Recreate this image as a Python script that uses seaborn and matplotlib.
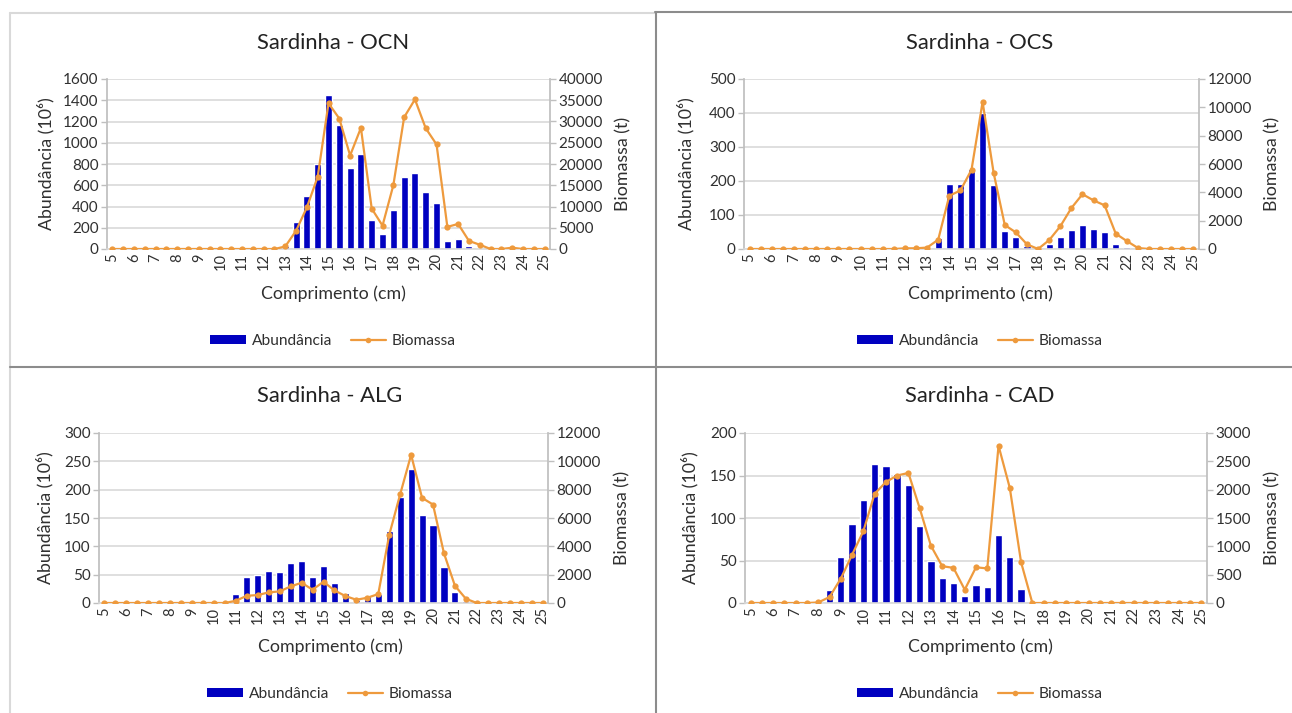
import numpy as np
import pandas as pd
import matplotlib
matplotlib.use("Agg")
import matplotlib.pyplot as plt
import seaborn as sns
from matplotlib.patches import Patch
from matplotlib.lines import Line2D

# Length classes (cm)
lengths = [5, 5.5, 6, 6.5, 7, 7.5, 8, 8.5, 9, 9.5, 10, 10.5, 11, 11.5, 12, 12.5,
           13, 13.5, 14, 14.5, 15, 15.5, 16, 16.5, 17, 17.5, 18, 18.5, 19, 19.5,
           20, 20.5, 21, 21.5, 22, 22.5, 23, 23.5, 24, 24.5, 25]
tick_labels = [str(v) for v in range(5, 26)]

# OCN
ocn_abund = [0, 0, 0, 0, 0, 0, 0, 0, 0, 0, 0, 0, 0, 0, 0, 0,
             30, 250, 500, 800, 1450, 1170, 760, 890, 275, 145, 365, 680, 715, 535,
             430, 80, 90, 25, 12, 0, 0, 0, 0, 0, 0]
ocn_bio = [0, 0, 0, 0, 0, 0, 0, 0, 0, 0, 0, 0, 0, 0, 0, 0,
           600, 4300, 9800, 17000, 34300, 30700, 22000, 28500, 9500, 5500, 15000, 31000, 35200, 28400,
           24600, 5200, 5900, 1900, 1000, 0, 0, 300, 0, 0, 0]

# OCS
ocs_abund = [0, 0, 0, 0, 0, 0, 0, 0, 0, 0, 0, 0, 0, 0, 1, 1,
             2, 33, 192, 192, 235, 400, 189, 54, 34, 10, 0, 14, 34, 57,
             72, 59, 49, 16, 6, 0, 0, 0, 0, 0, 0]
ocs_bio = [0, 0, 0, 0, 0, 0, 0, 0, 0, 0, 0, 0, 0, 0, 50, 50,
           100, 660, 3760, 4130, 5590, 10380, 5350, 1690, 1170, 330, 0, 630, 1600, 2890,
           3870, 3430, 3080, 1080, 560, 70, 0, 0, 0, 0, 0]

# ALG
alg_abund = [0, 0, 0, 0, 0, 0, 0, 0, 0, 0, 0, 0, 16, 46, 49, 56,
             54, 71, 75, 46, 65, 36, 18, 6, 12, 16, 127, 187, 237, 156,
             137, 63, 20, 3, 0, 0, 0, 0, 0, 0, 0]
alg_bio = [0, 0, 0, 0, 0, 0, 0, 0, 0, 0, 0, 0, 160, 510, 560, 750,
           820, 1170, 1430, 940, 1500, 890, 490, 230, 370, 630, 4800, 7670, 10460, 7420,
           6950, 3510, 1220, 300, 0, 0, 0, 0, 0, 0, 0]

# CAD
cad_abund = [0, 0, 0, 0, 0, 0, 4, 15, 54, 93, 121, 163, 161, 152, 139, 91,
             50, 29, 24, 8, 21, 19, 80, 54, 17, 0, 0, 0, 0, 0,
             0, 0, 0, 0, 0, 0, 0, 0, 0, 0, 0]
cad_bio = [0, 0, 0, 0, 0, 0, 10, 105, 430, 850, 1265, 1925, 2135, 2250, 2295, 1675,
           1010, 650, 620, 235, 630, 610, 2775, 2030, 720, 0, 0, 0, 0, 0,
           0, 0, 0, 0, 0, 0, 0, 0, 0, 0, 0]

BAR_COLOR = "#0000C0"
LINE_COLOR = "#EE9A3D"
TEXT = "#303030"
GRID = "#D9D9D9"
SPINE = "#BFBFBF"

W, H = 1292, 713

sns.set_theme(style="white")
plt.rcParams["font.family"] = ["Lato", "DejaVu Sans"]

fig = plt.figure(figsize=(W / 100, H / 100), dpi=100)


def fx(px):
    return px / W


def fy(py):
    return 1 - py / H


def panel(title, abund, bio, box, ylim1, ystep1, ylim2, ystep2, cx, xl_y, yl_x, yr_x, leg_y, title_y):
    left, top, right, bottom = box
    ax = fig.add_axes([fx(left), fy(bottom), fx(right - left), (bottom - top) / H])
    df = pd.DataFrame({"len": [str(v) for v in lengths], "abund": abund, "bio": bio,
                       "pos": range(len(lengths))})
    sns.barplot(data=df, x="len", y="abund", ax=ax, color=BAR_COLOR, saturation=1,
                width=0.65, zorder=2)
    ax.set_ylim(0, ylim1)
    ax.set_yticks(np.arange(0, ylim1 + 1, ystep1))
    ax.yaxis.grid(True, color=GRID, lw=1.2)
    ax.set_axisbelow(True)
    ax.set_xticks(range(0, len(lengths), 2))
    ax.set_xticklabels(tick_labels, rotation=90, fontsize=10.5, color=TEXT)
    ax.tick_params(axis="x", length=0, pad=3)
    ax.tick_params(axis="y", length=4, width=1, color=SPINE, labelsize=11, labelcolor=TEXT, pad=2, left=True)
    ax.set_xlabel("")
    ax.set_ylabel("")
    for s in ["top", "right"]:
        ax.spines[s].set_visible(False)
    ax.spines["left"].set_color(SPINE)
    ax.spines["bottom"].set_color(GRID)
    ax.spines["bottom"].set_linewidth(1.2)

    ax2 = ax.twinx()
    sns.lineplot(data=df, x="pos", y="bio", ax=ax2, color=LINE_COLOR, lw=1.6,
                 marker="o", markersize=4.5, markeredgewidth=0)
    ax2.set_ylim(0, ylim2)
    ax2.set_yticks(np.arange(0, ylim2 + 1, ystep2))
    ax2.tick_params(axis="y", length=4, width=1, color=SPINE, labelsize=11, labelcolor=TEXT, pad=2, right=True)
    ax2.set_ylabel("")
    ax2.set_xlabel("")
    for s in ["top", "left", "bottom"]:
        ax2.spines[s].set_visible(False)
    ax2.spines["right"].set_color(SPINE)
    ax.set_xlim(-0.5, len(lengths) - 0.5)
    ax2.set_xlim(-0.5, len(lengths) - 0.5)

    fig.text(fx(cx), fy(title_y), title, ha="center", va="center", fontsize=15.8, color="#222222")
    fig.text(fx(cx), fy(xl_y), "Comprimento (cm)", ha="center", va="center", fontsize=12.8, color=TEXT)
    mid = (top + bottom) / 2
    fig.text(fx(yl_x), fy(mid), "Abundância (10⁶)", ha="center", va="center", rotation=90,
             fontsize=12.8, color=TEXT)
    fig.text(fx(yr_x), fy(mid), "Biomassa (t)", ha="center", va="center", rotation=90,
             fontsize=12.8, color=TEXT)

    handles = [Patch(facecolor=BAR_COLOR, edgecolor="none"),
               Line2D([], [], color=LINE_COLOR, lw=1.6, marker="o", markersize=4, markeredgewidth=0)]
    fig.legend(handles, ["Abundância", "Biomassa"], loc="center", ncol=2, frameon=False,
               bbox_to_anchor=(fx(cx), fy(leg_y)), fontsize=11.2, handlelength=2.3,
               handleheight=0.5, columnspacing=1.2, handletextpad=0.35, labelcolor=TEXT)


panel("Sardinha - OCN", ocn_abund, ocn_bio, (107, 79, 550, 249), 1600, 200, 40000, 5000,
      333, 294, 46, 623, 341, 43)
panel("Sardinha - OCS", ocs_abund, ocs_bio, (744, 79, 1199, 249), 500, 100, 12000, 2000,
      980, 294, 686, 1272, 341, 43)
panel("Sardinha - ALG", alg_abund, alg_bio, (99, 433, 548, 603), 300, 50, 12000, 2000,
      330, 647, 45, 622, 694, 396)
panel("Sardinha - CAD", cad_abund, cad_bio, (745, 433, 1207, 603), 200, 50, 3000, 500,
      980, 647, 690, 1272, 694, 396)

# panel borders
def hline(y, x0, x1, color, lw=1.5):
    fig.add_artist(Line2D([fx(x0), fx(x1)], [fy(y), fy(y)], color=color, lw=lw))


def vline(x, y0, y1, color, lw=1.5):
    fig.add_artist(Line2D([fx(x), fx(x)], [fy(y0), fy(y1)], color=color, lw=lw))


hline(13, 10, 655, "#D9D9D9")
vline(10, 13, 713, "#D9D9D9")
hline(12, 655, 1292, "#8C8C8C")
vline(655.5, 12, 713, "#8C8C8C")
hline(366.5, 10, 1292, "#8C8C8C")

fig.savefig("out.png", dpi=100, facecolor="white")
